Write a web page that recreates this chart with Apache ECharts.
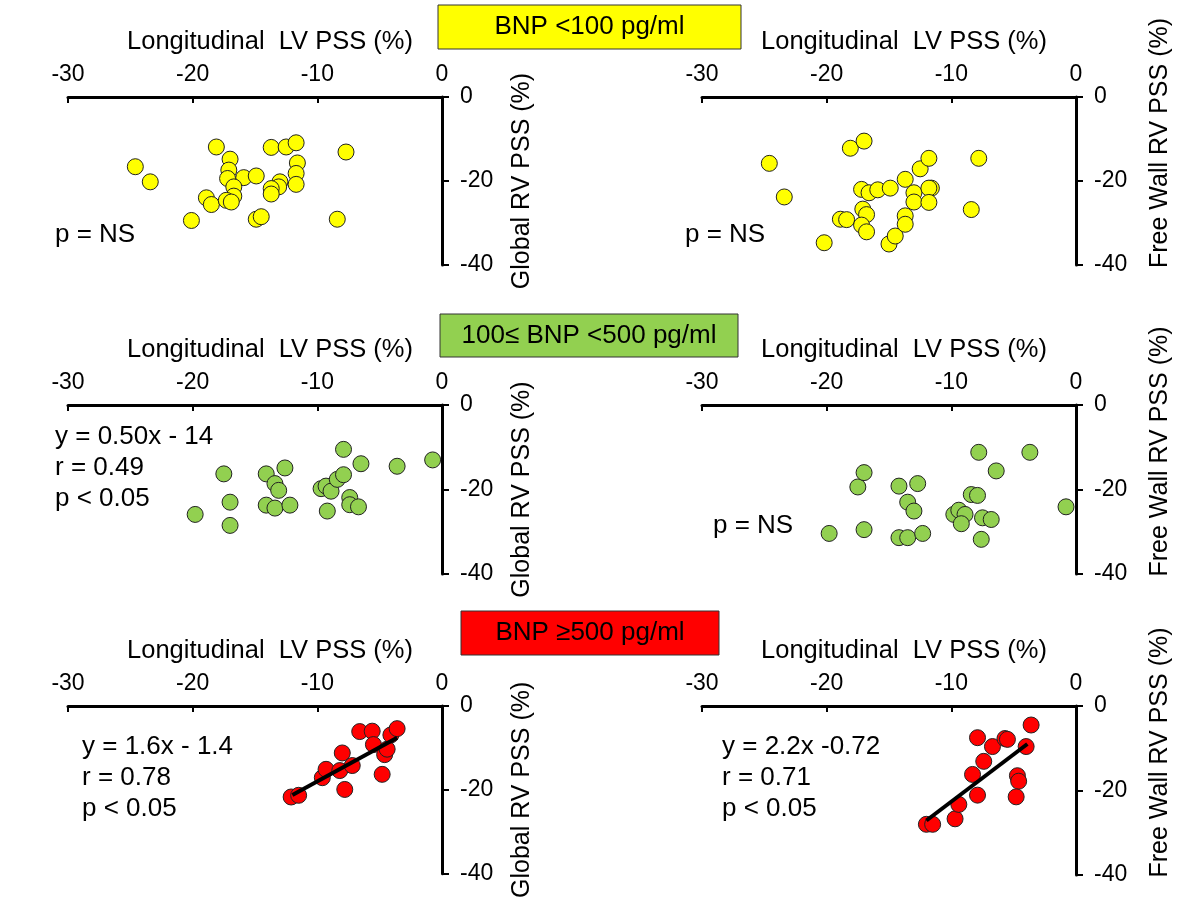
<!DOCTYPE html>
<html><head><meta charset="utf-8">
<script src="https://cdn.jsdelivr.net/npm/echarts@6/dist/echarts.min.js"></script>
<style>html,body{margin:0;padding:0;background:#fff}#c{width:1200px;height:900px}</style>
</head><body><div id="c"></div>
<script>
// ---- data (x = Longitudinal LV PSS %, y = RV PSS %) ----
const lowBnpGlobal = [[-24.6,-16.6],[-23.4,-20.2],[-18.1,-11.9],[-17.0,-14.8],[-17.1,-17.4],[-17.2,-19.4],[-15.9,-19.2],[-14.9,-18.8],[-16.7,-21.4],[-16.7,-23.6],[-18.9,-24.0],[-18.5,-25.6],[-17.3,-24.6],[-16.9,-25.0],[-20.1,-29.4],[-14.9,-29.1],[-14.5,-28.5],[-13.7,-12.0],[-12.5,-11.9],[-11.7,-10.9],[-11.6,-15.7],[-11.7,-18.2],[-11.7,-20.8],[-13.0,-20.2],[-13.1,-21.4],[-13.7,-21.8],[-13.7,-23.1],[-7.7,-13.1],[-8.4,-29.1]];
const lowBnpFreeWall = [[-24.6,-15.8],[-23.4,-23.8],[-18.1,-12.2],[-17.0,-10.5],[-17.2,-22.0],[-16.6,-22.8],[-15.9,-22.1],[-14.9,-21.7],[-17.1,-26.7],[-16.8,-28.0],[-18.9,-29.1],[-18.4,-29.2],[-17.2,-30.5],[-16.8,-32.1],[-20.2,-34.7],[-15.0,-35.0],[-14.5,-33.1],[-13.7,-19.6],[-13.0,-22.8],[-13.0,-25.0],[-13.7,-28.3],[-13.7,-30.3],[-12.5,-17.1],[-11.8,-14.6],[-11.6,-21.7],[-11.8,-21.7],[-11.8,-25.1],[-7.8,-14.6],[-8.4,-26.8]];
const midBnpGlobal = [[-19.8,-25.9],[-17.5,-16.3],[-17.0,-23.0],[-17.0,-28.5],[-14.1,-16.3],[-13.4,-18.6],[-13.1,-20.2],[-12.6,-14.9],[-14.1,-23.7],[-13.4,-24.4],[-12.2,-23.7],[-9.2,-25.1],[-9.7,-19.8],[-9.3,-19.2],[-8.9,-20.4],[-8.4,-17.6],[-7.9,-16.5],[-7.9,-10.5],[-6.5,-13.9],[-7.4,-21.9],[-7.4,-23.6],[-6.7,-24.1],[-3.6,-14.5],[-0.75,-13.0]];
const midBnpFreeWall = [[-19.8,-30.4],[-17.0,-29.5],[-17.5,-19.4],[-17.0,-16.0],[-14.2,-19.2],[-12.7,-18.6],[-13.5,-23.0],[-13.0,-25.1],[-14.2,-31.4],[-13.5,-31.4],[-12.3,-30.4],[-9.8,-25.9],[-9.4,-24.9],[-8.9,-25.9],[-9.2,-28.1],[-8.4,-21.2],[-7.9,-21.4],[-7.8,-11.2],[-6.4,-15.6],[-7.5,-26.7],[-6.8,-27.1],[-7.6,-31.8],[-3.7,-11.2],[-0.8,-24.1]];
const highBnpGlobal = [[-12.1,-21.7],[-11.5,-21.3],[-9.6,-17.1],[-9.3,-15.1],[-8.2,-15.4],[-8.0,-11.2],[-7.2,-14.2],[-7.8,-19.9],[-6.6,-6.1],[-5.6,-6.0],[-5.5,-9.2],[-4.8,-16.3],[-4.6,-11.6],[-4.4,-10.3],[-4.1,-6.9],[-3.6,-5.4]];
const highBnpFreeWall = [[-12.0,-28.0],[-11.5,-28.0],[-9.7,-26.7],[-9.4,-23.3],[-7.9,-21.1],[-8.3,-16.2],[-7.4,-13.1],[-7.9,-7.5],[-6.7,-9.6],[-5.7,-7.7],[-5.5,-7.9],[-4.0,-9.6],[-3.6,-4.5],[-4.7,-16.5],[-4.6,-17.8],[-4.8,-21.5]];
const highGlobalFit = [[-12.0,-21.2],[-3.6,-7.6]];
const highFreeWallFit = [[-12.0,-27.1],[-3.9,-9.0]];

const groupTitles = ['BNP <100 pg/ml', '100\u2264 BNP <500 pg/ml', 'BNP \u2265500 pg/ml'];
const groupColors = ['#FFFF00', '#92D050', '#FF0000'];
const xName = 'Longitudinal  LV PSS (%)';
const yNames = ['Global RV PSS (%)', 'Free Wall RV PSS (%)'];
const annotations = [
  ['p = NS', 'p = NS'],
  ['y = 0.50x - 14\nr = 0.49\np < 0.05', 'p = NS'],
  ['y = 1.6x - 1.4\nr = 0.78\np < 0.05', 'y = 2.2x -0.72\nr = 0.71\np < 0.05']
];
const panelData = [[lowBnpGlobal, lowBnpFreeWall],[midBnpGlobal, midBnpFreeWall],[highBnpGlobal, highBnpFreeWall]];
const fitData = [[null,null],[null,null],[highGlobalFit, highFreeWallFit]];

// ---- layout ----
const FONT = '"Liberation Sans", Arial, sans-serif';
const rowTop = [97, 405, 706];
const rowH = [168, 169, 169];
const colLeft = [68, 702];
const colW = [374, 374];
const annoPos = [[[55,235],[685,235]],[[55,437],[713,526]],[[82,747],[722,747]]];
const boxes = [[438,5,303,44],[440,314,298,43],[461,611,258,44]];

const grid=[], xAxis=[], yAxis=[], series=[], graphic=[];
let k=0;
for (let r=0;r<3;r++){
  for (let c=0;c<2;c++){
    grid.push({left:colLeft[c], top:rowTop[r], width:colW[c], height:rowH[r], containLabel:false});
    xAxis.push({type:'value', gridIndex:k, position:'top', min:-30, max:0, interval:10,
      axisLine:{onZero:false, lineStyle:{color:'#000', width:3}},
      axisTick:{inside:true, length:6, lineStyle:{color:'#000', width:2}},
      axisLabel:{color:'#000', fontSize:23, fontFamily:FONT, margin:11},
      splitLine:{show:false},
      name:xName, nameLocation:'middle', nameGap:42,
      nameTextStyle:{color:'#000', fontSize:25.5, fontFamily:FONT, padding:[0,0,0,30]}});
    yAxis.push({type:'value', gridIndex:k, position:'right', min:-40, max:0, interval:20,
      axisLine:{onZero:false, lineStyle:{color:'#000', width:3}},
      axisTick:{inside:false, length:7, lineStyle:{color:'#000', width:2}},
      axisLabel:{color:'#000', fontSize:23, fontFamily:FONT, margin:18},
      splitLine:{show:false},
      name:yNames[c], nameLocation:'middle', nameGap: c===0?68:72,
      nameTextStyle:{color:'#000', fontSize:25, fontFamily:FONT, padding: c===0?[0,0,0,0]:[0,0,0,76]}});
    series.push({type:'scatter', xAxisIndex:k, yAxisIndex:k, data:panelData[r][c], symbol:'circle', symbolSize:16,
      itemStyle:{color:groupColors[r], borderColor:'#222', borderWidth:1, opacity:1}, z:3});
    if (fitData[r][c]) {
      series.push({type:'line', xAxisIndex:k, yAxisIndex:k, data:fitData[r][c], symbol:'none',
        lineStyle:{color:'#000', width:4}, z:5, silent:true});
    }
    const p = annoPos[r][c];
    graphic.push({type:'text', left:p[0], top:p[1]-16, z:10,
      style:{text:annotations[r][c], fill:'#000', font:'26px '+FONT, lineHeight:31}});
    k++;
  }
  const b = boxes[r];
  graphic.push({type:'rect', shape:{x:b[0], y:b[1], width:b[2], height:b[3]}, z:10,
    style:{fill:groupColors[r], stroke:'#333', lineWidth:1}});
  graphic.push({type:'text', x:b[0]+b[2]/2, y:b[1]+b[3]/2, z:11,
    style:{text:groupTitles[r], fill:'#000', font:'26px '+FONT, textAlign:'center', textVerticalAlign:'middle'}});
}

const chart = echarts.init(document.getElementById('c'), null, {renderer:'canvas'});
chart.setOption({animation:false, backgroundColor:'#fff', grid, xAxis, yAxis, series, graphic});
</script></body></html>
